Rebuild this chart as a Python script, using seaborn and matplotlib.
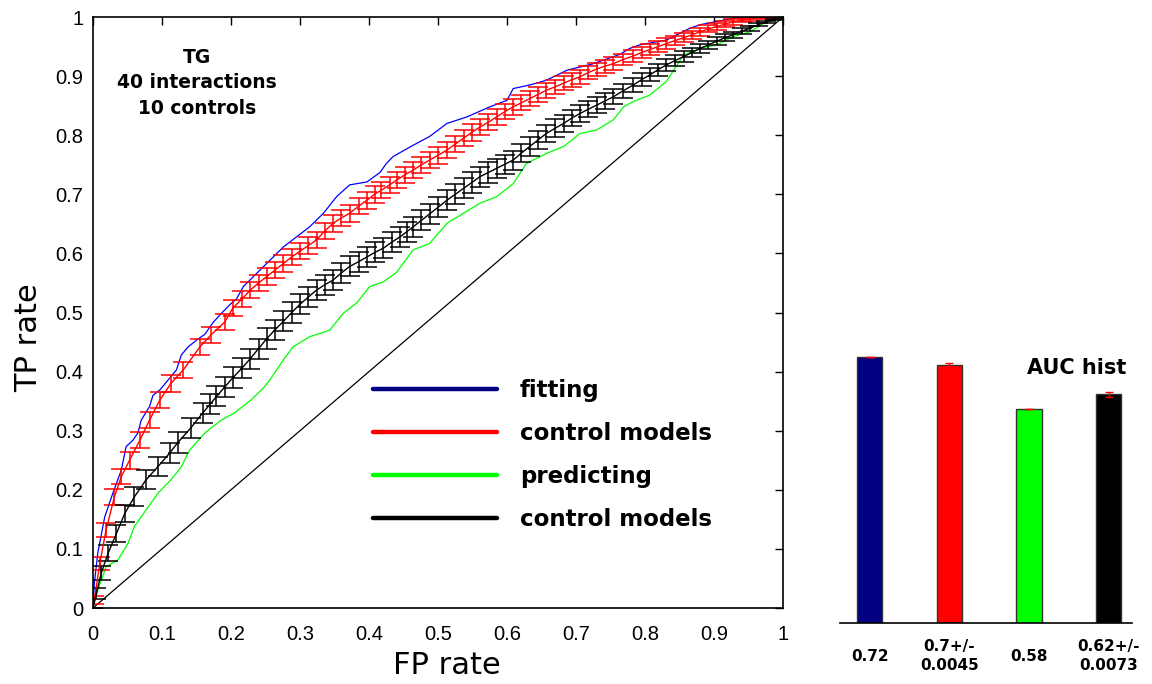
import matplotlib
matplotlib.use("Agg")
import matplotlib.pyplot as plt
from matplotlib.lines import Line2D
import seaborn as sns
import pandas as pd

# ---------------- data ----------------
fit_fp = [0, 0.002, 0.007, 0.017, 0.029, 0.041, 0.048, 0.058, 0.065, 0.070, 0.082, 0.087, 0.097,
          0.109, 0.121, 0.128, 0.138, 0.152, 0.162, 0.174, 0.184, 0.199, 0.208, 0.218, 0.237,
          0.257, 0.276, 0.295, 0.314, 0.334, 0.353, 0.372, 0.397, 0.416, 0.425, 0.435, 0.464,
          0.488, 0.513, 0.542, 0.575, 0.600, 0.609, 0.633, 0.657, 0.687, 0.725, 0.764, 0.778,
          0.793, 0.831, 0.865, 0.880, 0.928, 0.960, 1.0]
fit_tp = [0, 0.042, 0.093, 0.154, 0.195, 0.233, 0.273, 0.284, 0.296, 0.318, 0.341, 0.360, 0.369,
          0.386, 0.403, 0.428, 0.442, 0.455, 0.463, 0.483, 0.496, 0.514, 0.523, 0.544, 0.566,
          0.589, 0.611, 0.628, 0.645, 0.668, 0.696, 0.716, 0.721, 0.737, 0.752, 0.764, 0.783,
          0.798, 0.820, 0.831, 0.848, 0.859, 0.879, 0.885, 0.893, 0.910, 0.921, 0.937, 0.947,
          0.953, 0.961, 0.981, 0.987, 0.998, 1.0, 1.0]

pred_fp = [0, 0.007, 0.019, 0.036, 0.051, 0.060, 0.077, 0.094, 0.113, 0.128, 0.140, 0.162, 0.186,
           0.205, 0.229, 0.245, 0.254, 0.276, 0.290, 0.314, 0.343, 0.363, 0.382, 0.401, 0.421,
           0.440, 0.464, 0.488, 0.513, 0.537, 0.561, 0.585, 0.609, 0.628, 0.657, 0.682, 0.706,
           0.730, 0.754, 0.769, 0.783, 0.807, 0.831, 0.856, 0.880, 0.904, 0.928, 0.952, 0.976, 1.0]
pred_tp = [0, 0.030, 0.070, 0.081, 0.110, 0.138, 0.166, 0.194, 0.217, 0.239, 0.267, 0.296, 0.318,
           0.330, 0.352, 0.370, 0.382, 0.420, 0.442, 0.459, 0.470, 0.499, 0.516, 0.544, 0.552,
           0.568, 0.606, 0.617, 0.651, 0.668, 0.685, 0.696, 0.718, 0.752, 0.769, 0.781, 0.803,
           0.809, 0.826, 0.848, 0.857, 0.868, 0.891, 0.936, 0.947, 0.953, 0.967, 0.975, 0.992, 1.0]

ctrl_fit_fp = [0, 0.002, 0.010, 0.019, 0.031, 0.041, 0.053, 0.068, 0.082, 0.097, 0.113, 0.131,
               0.155, 0.171, 0.191, 0.203, 0.216, 0.228, 0.240, 0.252, 0.264, 0.276, 0.288, 0.300,
               0.312, 0.324, 0.336, 0.348, 0.360, 0.372, 0.385, 0.397, 0.408, 0.418, 0.430, 0.440,
               0.452, 0.464, 0.476, 0.488, 0.500, 0.513, 0.525, 0.537, 0.549, 0.561, 0.573, 0.585,
               0.597, 0.609, 0.621, 0.633, 0.645, 0.657, 0.670, 0.682, 0.694, 0.706, 0.718, 0.730,
               0.742, 0.754, 0.768, 0.783, 0.795, 0.807, 0.819, 0.831, 0.843, 0.856, 0.868, 0.880,
               0.892, 0.904, 0.916, 0.928, 0.940, 0.952, 0.964, 0.976, 0.988, 1.0]
ctrl_fit_tp = [0, 0.014, 0.076, 0.132, 0.188, 0.222, 0.250, 0.284, 0.318, 0.352, 0.380, 0.403,
               0.442, 0.462, 0.484, 0.508, 0.523, 0.538, 0.550, 0.561, 0.572, 0.583, 0.594, 0.604,
               0.613, 0.623, 0.638, 0.651, 0.660, 0.668, 0.680, 0.690, 0.700, 0.707, 0.716, 0.724,
               0.733, 0.741, 0.750, 0.758, 0.766, 0.775, 0.785, 0.795, 0.805, 0.814, 0.822, 0.831,
               0.840, 0.848, 0.855, 0.862, 0.869, 0.876, 0.882, 0.888, 0.894, 0.899, 0.906, 0.912,
               0.917, 0.921, 0.928, 0.934, 0.940, 0.945, 0.950, 0.955, 0.960, 0.965, 0.970, 0.975,
               0.980, 0.984, 0.988, 0.992, 0.995, 0.997, 0.999, 1.0, 1.0, 1.0]
ctrl_fit_sd = [0, 0.007, 0.011, 0.012, 0.013, 0.013, 0.014, 0.014, 0.014, 0.014, 0.014, 0.014,
               0.014, 0.014, 0.014, 0.014, 0.014, 0.014, 0.014, 0.014, 0.014, 0.014, 0.014, 0.014,
               0.014, 0.014, 0.014, 0.014, 0.014, 0.014, 0.014, 0.014, 0.014, 0.014, 0.014, 0.014,
               0.014, 0.014, 0.014, 0.014, 0.014, 0.014, 0.014, 0.014, 0.014, 0.014, 0.014, 0.014,
               0.013, 0.013, 0.013, 0.013, 0.013, 0.013, 0.012, 0.012, 0.012, 0.012, 0.011, 0.011,
               0.011, 0.011, 0.010, 0.010, 0.010, 0.009, 0.009, 0.009, 0.008, 0.008, 0.007, 0.007,
               0.006, 0.006, 0.005, 0.005, 0.004, 0.004, 0.003, 0.002, 0.001, 0]

ctrl_pred_fp = [0, 0.005, 0.012, 0.022, 0.034, 0.046, 0.060, 0.077, 0.094, 0.111, 0.123, 0.142,
                0.159, 0.170, 0.179, 0.191, 0.203, 0.216, 0.228, 0.240, 0.252, 0.264, 0.276, 0.288,
                0.300, 0.312, 0.324, 0.336, 0.348, 0.360, 0.372, 0.385, 0.397, 0.409, 0.421, 0.433,
                0.445, 0.455, 0.464, 0.476, 0.488, 0.500, 0.513, 0.525, 0.537, 0.549, 0.561, 0.573,
                0.585, 0.597, 0.609, 0.621, 0.633, 0.645, 0.657, 0.670, 0.682, 0.694, 0.706, 0.718,
                0.730, 0.742, 0.754, 0.768, 0.783, 0.795, 0.807, 0.819, 0.831, 0.843, 0.856, 0.868,
                0.880, 0.892, 0.904, 0.916, 0.928, 0.940, 0.952, 0.964, 0.976, 0.988, 1.0]
ctrl_pred_tp = [0, 0.025, 0.059, 0.093, 0.126, 0.160, 0.188, 0.217, 0.239, 0.262, 0.280, 0.305,
                0.330, 0.345, 0.358, 0.374, 0.390, 0.406, 0.422, 0.439, 0.456, 0.471, 0.485, 0.500,
                0.514, 0.526, 0.538, 0.547, 0.555, 0.567, 0.578, 0.586, 0.594, 0.602, 0.609, 0.619,
                0.628, 0.637, 0.645, 0.656, 0.667, 0.678, 0.690, 0.700, 0.710, 0.720, 0.730, 0.737,
                0.744, 0.751, 0.758, 0.770, 0.781, 0.792, 0.803, 0.812, 0.820, 0.829, 0.837, 0.844,
                0.851, 0.858, 0.865, 0.875, 0.885, 0.894, 0.902, 0.911, 0.919, 0.926, 0.933, 0.940,
                0.947, 0.953, 0.959, 0.965, 0.970, 0.976, 0.981, 0.987, 0.992, 0.996, 1.0]
ctrl_pred_sd = [0, 0.009, 0.012, 0.013, 0.014, 0.015, 0.016, 0.016, 0.016, 0.017, 0.017, 0.017,
                0.017, 0.017, 0.017, 0.017, 0.017, 0.017, 0.017, 0.017, 0.017, 0.017, 0.017, 0.017,
                0.017, 0.017, 0.017, 0.017, 0.017, 0.017, 0.017, 0.017, 0.017, 0.017, 0.017, 0.017,
                0.017, 0.017, 0.017, 0.017, 0.017, 0.017, 0.017, 0.017, 0.017, 0.017, 0.017, 0.017,
                0.016, 0.016, 0.016, 0.016, 0.016, 0.015, 0.015, 0.015, 0.015, 0.014, 0.014, 0.014,
                0.013, 0.013, 0.013, 0.012, 0.012, 0.011, 0.011, 0.010, 0.010, 0.009, 0.009, 0.008,
                0.008, 0.007, 0.007, 0.006, 0.005, 0.005, 0.004, 0.003, 0.002, 0.001, 0]

diag = [0, 1]

legend_labels = ["fitting", "control models", "predicting", "control models"]
legend_colors = ["#000080", "#ff0000", "#00ff00", "#000000"]

auc_labels = ["0.72", "0.7+/-\n0.0045", "0.58", "0.62+/-\n0.0073"]
auc_values = [0.72, 0.70, 0.58, 0.62]
auc_err = [0.0, 0.0045, 0.0, 0.0073]
bar_colors = ["#000080", "#ff0000", "#00ff00", "#000000"]

# ---------------- figure ----------------
sns.set_style("white")
plt.rcParams["font.family"] = ["DejaVu Sans"]
plt.rcParams["text.color"] = "black"
plt.rcParams["axes.labelcolor"] = "black"
plt.rcParams["xtick.color"] = "black"
plt.rcParams["ytick.color"] = "black"

fig = plt.figure(figsize=(11.52, 6.84), dpi=100)
ax = fig.add_axes([0.0807, 0.1111, 0.599, 0.864])

sns.lineplot(x=diag, y=diag, color="black", linewidth=0.9, ax=ax, estimator=None, sort=False)
sns.lineplot(x=fit_fp, y=fit_tp, color="#0000ff", linewidth=0.9, ax=ax, estimator=None, sort=False)
sns.lineplot(x=pred_fp, y=pred_tp, color="#00ff00", linewidth=0.9, ax=ax, estimator=None, sort=False)
ax.errorbar(ctrl_fit_fp, ctrl_fit_tp, yerr=ctrl_fit_sd, color="#ff0000", ecolor="#ff0000",
            elinewidth=1.1, capsize=7, capthick=1.1, linewidth=1.0)
ax.errorbar(ctrl_pred_fp, ctrl_pred_tp, yerr=ctrl_pred_sd, color="black", ecolor="black",
            elinewidth=1.1, capsize=7, capthick=1.1, linewidth=1.0)

ax.set_xlim(0, 1)
ax.set_ylim(0, 1)
ticks = [0, 0.1, 0.2, 0.3, 0.4, 0.5, 0.6, 0.7, 0.8, 0.9, 1]
tick_labels = ["0", "0.1", "0.2", "0.3", "0.4", "0.5", "0.6", "0.7", "0.8", "0.9", "1"]
ax.set_xticks(ticks)
ax.set_xticklabels(tick_labels)
ax.set_yticks(ticks)
ax.set_yticklabels(tick_labels)
ax.tick_params(direction="in", top=True, right=True, length=6, width=1, color="black",
               labelcolor="black")
ax.tick_params(axis="x", pad=12)
ax.tick_params(axis="y", pad=7)
for lab in ax.get_xticklabels() + ax.get_yticklabels():
    lab.set_fontfamily("Liberation Sans")
    lab.set_fontsize(14.5)
for sp in ax.spines.values():
    sp.set_color("black")
    sp.set_linewidth(1.2)

ax.set_xlabel("FP rate", fontsize=22, color="black")
ax.set_ylabel("TP rate", fontsize=22, color="black")
ax.xaxis.set_label_coords(0.513, -0.072)
ax.yaxis.set_label_coords(-0.072, 0.457)

ax.text(0.151, 0.948, "TG\n40 interactions\n10 controls", transform=ax.transAxes,
        ha="center", va="top", fontsize=13.5, fontweight="bold", linespacing=1.43, color="black")

handles = [Line2D([], [], color=c, linewidth=3.2) for c in legend_colors]
leg = ax.legend(handles, legend_labels, loc="upper left", bbox_to_anchor=(0.406, 0.387),
                frameon=False, fontsize=16.5, handlelength=5.4, handletextpad=1.0,
                labelspacing=0.87, borderpad=0, borderaxespad=0)
for t in leg.get_texts():
    t.set_fontweight("bold")
    t.set_color("black")

# ---------------- AUC bars ----------------
ax2 = fig.add_axes([0.729, 0.0892, 0.254, 0.5395])
df = pd.DataFrame({"label": auc_labels, "auc": auc_values})
sns.barplot(data=df, x="label", y="auc", hue="label", palette=bar_colors, width=0.315,
            saturation=1, edgecolor="#333333", linewidth=1, legend=False, ax=ax2, errorbar=None)
ax2.errorbar(range(len(auc_values)), auc_values, yerr=auc_err, fmt="none", ecolor="red",
             elinewidth=1, capsize=3, capthick=1)
ax2.set_xlim(-0.378, 3.30)
ax2.set_ylim(0, 1)
ax2.set_xlabel("")
ax2.set_ylabel("")
ax2.set_yticks([])
for s in ["left", "right", "top"]:
    ax2.spines[s].set_visible(False)
ax2.spines["bottom"].set_color("black")
ax2.spines["bottom"].set_linewidth(1.2)
ax2.tick_params(axis="x", length=0, pad=24, labelcolor="black")
for lab in ax2.get_xticklabels():
    lab.set_fontweight("bold")
    lab.set_fontsize(11)
    lab.set_verticalalignment("center")
    lab.set_linespacing(1.35)
ax2.text(0.81, 0.69, "AUC hist", transform=ax2.transAxes, ha="center", va="center",
         fontsize=15, fontweight="bold", color="black")

fig.savefig("out.png", dpi=100)
